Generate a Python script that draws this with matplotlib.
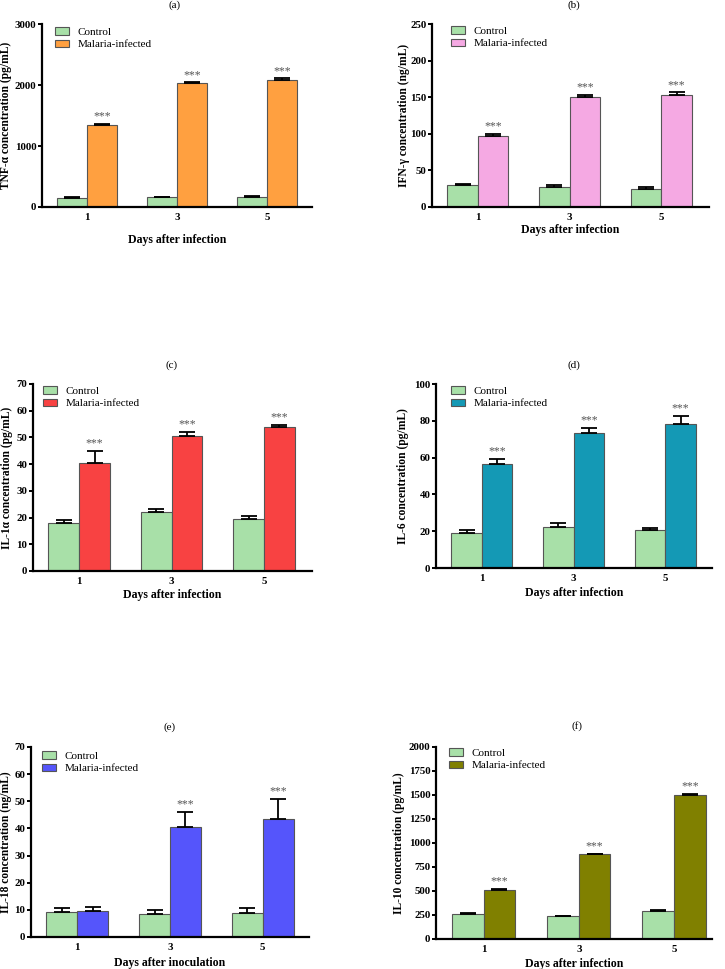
import numpy as np
import matplotlib
matplotlib.use("Agg")
import matplotlib.pyplot as plt

plt.rcParams['font.family'] = ['Liberation Serif', 'DejaVu Serif']

## data
days = ['1', '3', '5']

tnf_ctrl = [150, 162, 170]
tnf_ctrl_err = [10, 10, 10]
tnf_inf = [1340, 2030, 2090]
tnf_inf_err = [20, 15, 20]

ifn_ctrl = [30, 28, 25]
ifn_ctrl_err = [2, 2, 2.5]
ifn_inf = [97, 150, 153]
ifn_inf_err = [2.5, 3, 3.5]

il1a_ctrl = [17.9, 21.9, 19.3]
il1a_ctrl_err = [1.2, 1.2, 1.2]
il1a_inf = [40.3, 50.6, 53.9]
il1a_inf_err = [4.8, 1.4, 0.8]

il6_ctrl = [18.8, 22.3, 20.4]
il6_ctrl_err = [1.8, 2.0, 1.2]
il6_inf = [56.5, 73.6, 78.1]
il6_inf_err = [2.7, 2.7, 4.5]

il18_ctrl = [9.2, 8.6, 9.0]
il18_ctrl_err = [1.6, 1.4, 1.6]
il18_inf = [9.5, 40.4, 43.3]
il18_inf_err = [1.7, 5.8, 7.6]
il18_sig = [False, True, True]

il10_ctrl = [265, 236, 295]
il10_ctrl_err = [5, 4, 5]
il10_inf = [514, 885, 1503]
il10_inf_err = [6, 5, 5]

W, H = 725, 969
fig = plt.figure(figsize=(W / 100, H / 100), dpi=100)

ctrl_color = '#a8e0a8'

# panel: (tag, ctrl, ctrl_err, inf, inf_err, sig, color, ylabel, xlabel, ymax, ystep,
#         axes px [left, top, right, bottom], tag pos, ylabel x, xlabel y, legend px, xmax)
panels = [
    ('(a)', tnf_ctrl, tnf_ctrl_err, tnf_inf, tnf_inf_err, [True] * 3, '#ffa040',
     'TNF-α concentration (pg/mL)', 'Days after infection', 3000, 1000,
     [42, 24, 312, 207], (175, 5), -0.112, 240, (55, 27), 2.5),
    ('(b)', ifn_ctrl, ifn_ctrl_err, ifn_inf, ifn_inf_err, [True] * 3, '#f5a9e3',
     'IFN-γ concentration (ng/mL)', 'Days after infection', 250, 50,
     [432, 24, 709, 207], (574, 5), -0.08, 230, (451, 26), 2.52),
    ('(c)', il1a_ctrl, il1a_ctrl_err, il1a_inf, il1a_inf_err, [True] * 3, '#f84242',
     'IL-1α concentration (pg/mL)', 'Days after infection', 70, 10,
     [33, 384, 312, 571], (172, 365), -0.072, 595, (43, 386), 2.52),
    ('(d)', il6_ctrl, il6_ctrl_err, il6_inf, il6_inf_err, [True] * 3, '#1499b5',
     'IL-6 concentration (pg/mL)', 'Days after infection', 100, 20,
     [436, 384, 712, 568], (574, 365), -0.098, 593, (451, 386), 2.51),
    ('(e)', il18_ctrl, il18_ctrl_err, il18_inf, il18_inf_err, il18_sig, '#5555fb',
     'IL-18 concentration (ng/mL)', 'Days after inoculation', 70, 10,
     [31, 747, 309, 937], (170, 727), -0.068, 963, (42, 751), 2.5),
    ('(f)', il10_ctrl, il10_ctrl_err, il10_inf, il10_inf_err, [True] * 3, '#808000',
     'IL-10 concentration (pg/mL)', 'Days after infection', 2000, 250,
     [436, 747, 712, 939], (577, 726), -0.112, 964, (449, 748), 2.4),
]

bw = 0.333
x = np.arange(len(days))

for (tag, c, ce, v, ve, sig, col, ylab, xlab, ymax, ystep,
     box, tagpos, ylx, xly, legpos, xmax) in panels:
    l, t, r, b = box
    ax = fig.add_axes([l / W, 1 - b / H, (r - l) / W, (b - t) / H])
    ax.bar(x - bw / 2, c, bw, color=ctrl_color, edgecolor='#555555', linewidth=0.8,
           label='Control', zorder=2)
    ax.bar(x + bw / 2, v, bw, color=col, edgecolor='#555555', linewidth=0.8,
           label='Malaria-infected', zorder=2)
    ax.errorbar(x - bw / 2, c, yerr=[np.zeros(3), ce], fmt='none', ecolor='black',
                elinewidth=1.3, capsize=6, capthick=1.3, zorder=3)
    ax.errorbar(x + bw / 2, v, yerr=[np.zeros(3), ve], fmt='none', ecolor='black',
                elinewidth=1.3, capsize=6, capthick=1.3, zorder=3)
    for i in range(3):
        if sig[i]:
            ax.annotate('***', (x[i] + bw / 2, v[i] + ve[i]), xytext=(0, 1),
                        textcoords='offset points', ha='center', va='bottom',
                        fontsize=8.5, color='#555555')

    ax.set_xlim(-0.5, xmax)
    ax.set_ylim(0, ymax)
    ax.set_yticks(np.arange(0, ymax + ystep / 2, ystep))
    ax.set_xticks(x)
    ax.set_xticklabels(days)
    for s in ['top', 'right']:
        ax.spines[s].set_visible(False)
    for s in ['left', 'bottom']:
        ax.spines[s].set_linewidth(1.6)
    ax.tick_params(axis='y', direction='out', length=3, width=1.4, pad=1)
    ax.tick_params(axis='x', length=0, pad=4)
    for lb in ax.get_xticklabels() + ax.get_yticklabels():
        lb.set_fontweight('bold')
        lb.set_fontsize(7.8)

    ax.set_ylabel(ylab, fontsize=8.3, fontweight='bold')
    ax.yaxis.set_label_coords(ylx, 0.5)
    ax.set_xlabel(xlab, fontsize=8.5, fontweight='bold')
    ax.xaxis.set_label_coords(0.5, (b - (xly - 6)) / (b - t))

    ax.legend(loc='upper left', bbox_to_anchor=(legpos[0] / W, 1 - legpos[1] / H),
              bbox_transform=fig.transFigure, frameon=False, fontsize=8,
              borderpad=0, borderaxespad=0, handlelength=1.3, handleheight=0.7,
              handletextpad=0.7, labelspacing=0.25)

    fig.text(tagpos[0] / W, 1 - tagpos[1] / H, tag, ha='center', va='center', fontsize=8)

fig.savefig('out.png', dpi=100)
